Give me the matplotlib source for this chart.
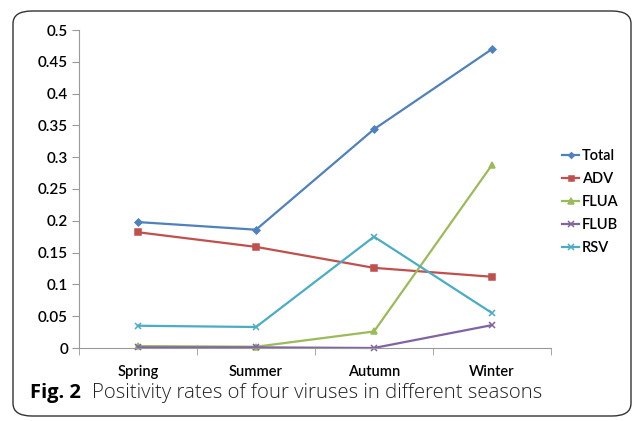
import matplotlib.pyplot as plt
import matplotlib.patches as patches
import numpy as np

seasons = ["Spring", "Summer", "Autumn", "Winter"]
total = [0.198, 0.186, 0.344, 0.470]
adv = [0.182, 0.159, 0.126, 0.112]
flua = [0.003, 0.002, 0.026, 0.288]
flub = [0.001, 0.001, 0.000, 0.036]
rsv = [0.035, 0.033, 0.175, 0.055]
yticks = [0, 0.05, 0.1, 0.15, 0.2, 0.25, 0.3, 0.35, 0.4, 0.45, 0.5]

plt.rcParams['font.family'] = ['Lato', 'DejaVu Sans']

fig = plt.figure(figsize=(6.37, 4.21), dpi=100)

# rounded frame around chart + caption
frame = patches.FancyBboxPatch((13 / 637, 5 / 421), 618 / 637, 405 / 421,
                               boxstyle="round,pad=0,rounding_size=0.03",
                               transform=fig.transFigure, facecolor='none',
                               edgecolor='#333333', linewidth=1.0)
fig.patches.append(frame)

ax = fig.add_axes([79 / 637, 1 - 348 / 421, 472 / 637, 318 / 421])
x = np.arange(len(seasons))
series = [
    ("Total", total, '#4F81BD', 'D', 3.5),
    ("ADV", adv, '#C0504D', 's', 4.5),
    ("FLUA", flua, '#9BBB59', '^', 5),
    ("FLUB", flub, '#8064A2', 'x', 5),
    ("RSV", rsv, '#4BACC6', 'x', 5),
]
for name, vals, col, mk, ms in series:
    ax.plot(x, vals, color=col, marker=mk, markersize=ms, linewidth=1.6,
            label=name, markeredgewidth=1.1, clip_on=False)

ax.set_xlim(-0.5, 3.5)
ax.set_ylim(0, 0.5)
ax.set_yticks(yticks)
ax.set_yticklabels([f"{v:g}" for v in yticks], fontsize=11, fontweight='semibold')
ax.set_xticks(x)
ax.set_xticklabels(seasons, fontsize=10.5, fontweight='semibold')
ax.set_xticks(np.arange(-0.5, 4, 1), minor=True)
ax.tick_params(axis='x', which='major', length=0, pad=12)
ax.tick_params(axis='x', which='minor', length=5, color='#999999')
ax.tick_params(axis='y', length=5, color='#999999', pad=3)
for s in ['top', 'right']:
    ax.spines[s].set_visible(False)
for s in ['left', 'bottom']:
    ax.spines[s].set_color('#999999')

leg = fig.legend(loc='upper left', bbox_to_anchor=(556 / 637, 1 - 143 / 421),
                 frameon=False, prop={'size': 10.5, 'weight': 'semibold'},
                 handlelength=1.2, handletextpad=0.15,
                 labelspacing=0.62, borderaxespad=0, markerscale=0.8)

fig.text(30 / 637, 1 - 393 / 421, "Fig. 2", fontsize=14.5, fontweight='bold',
         va='center', family=['Open Sans', 'DejaVu Sans'])
fig.text(92 / 637, 1 - 393 / 421, "Positivity rates of four viruses in different seasons",
         fontsize=14.7, va='center', family=['Open Sans', 'DejaVu Sans'],
         color='#222222', fontweight='light')

fig.savefig("out.png", dpi=100)
